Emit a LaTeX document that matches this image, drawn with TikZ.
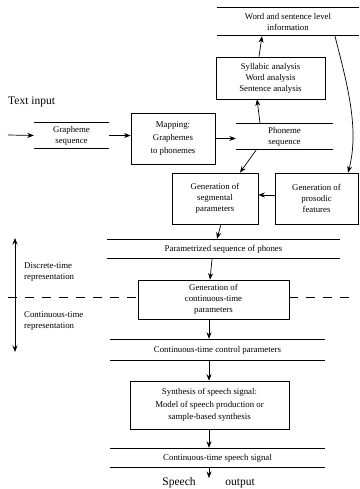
\documentclass[tikz,border=0pt]{standalone}
\usepackage{fontspec}
\setmainfont{Liberation Serif}
\usetikzlibrary{arrows.meta,calc}
\begin{document}
\begin{tikzpicture}[x=1pt,y=-1pt,
  every node/.style={font=\fontsize{8.8}{11}\selectfont, inner sep=0pt, align=center},
  box/.style={draw, line width=0.7pt, minimum width=#1},
  bar/.style={minimum width=#1},
  dbl/.style={double, double distance=1.3pt, line width=0.55pt},
  tip/.style={},
  arr/.style={-{Stealth[length=6.5pt,width=5pt]}, line width=0.7pt},
  lbl/.style={font=\fontsize{8.8}{11}\selectfont, align=left, anchor=west},
  big/.style={font=\fontsize{11.5}{13}\selectfont}
]
\useasboundingbox (0,0) rectangle (359,489);

% nodes
\node[bar=141, minimum height=29] (word) at (288,21.5) {Word and sentence level\\information};
\node[box=109, minimum height=42] (syl) at (270.5,78) {Syllabic analysis\\Word analysis\\Sentence analysis};
\node[big, anchor=west] (txt) at (8,102) {Text input};
\node[bar=75, minimum height=27] (graph) at (71.5,135.5) {Grapheme\\sequence};
\node[box=84, minimum height=51, font=\fontsize{8.8}{13}\selectfont] (map) at (173,138.5) {Mapping:\\Graphemes\\to phonemes};
\node[bar=97, minimum height=27] (phon) at (284.5,136.5) {Phoneme\\sequence};
\node[box=86, minimum height=51] (seg) at (215,198.5) {Generation of\\segmental\\parameters};
\node[box=83, minimum height=51] (pros) at (316.5,198.5) {Generation of\\prosodic\\features};
\node[bar=233, minimum height=20] (param) at (223.5,249) {Parametrized sequence of phones};
\node[box=151, minimum height=39] (gcont) at (213.5,299.5) {Generation of\\continuous-time\\parameters};
\node[bar=215, minimum height=22] (ctrl) at (217.5,350) {Continuous-time control parameters};
\node[box=159, minimum height=48, font=\fontsize{8.8}{12.5}\selectfont] (synth) at (209.5,405) {Synthesis of speech signal:\\Model of speech production or\\sample-based synthesis};
\node[bar=215, minimum height=20] (sig) at (217.5,458) {Continuous-time speech signal};
\node[big] (sp) at (179,483) {Speech};
\node[big] (out) at (240,483) {output};
\node[lbl] (disc) at (24,272) {Discrete-time\\representation};
\node[lbl] (cont) at (24,321) {Continuous-time\\representation};

% double bars
\foreach \n in {word,graph,phon,param,ctrl,sig}{
  \draw[dbl] (\n.north west) -- (\n.north east);
  \draw[dbl] (\n.south west) -- (\n.south east);
}

% coordinates
\coordinate (in) at (8,135);
\coordinate (end) at (209,478);
\coordinate (dl) at (8,297);
\coordinate (dr) at (350,297);
\coordinate (vt) at (15,238);
\coordinate (vb) at (15,352);

% connectors
\draw[arr] (in) -- (graph.west);
\draw[arr] (graph.east) -- (map.west |- graph.east);
\draw[arr] (map.east) -- (phon.west |- map.east);
\draw[arr] ([xshift=-24.5pt]phon.north) -- ([xshift=-13.5pt]syl.south);
\draw[arr] ([xshift=-11.5pt]syl.north) -- ([xshift=-26pt]word.south);
\draw[arr] ([xshift=47pt]word.south) .. controls (346,80) and (360,128) .. ([xshift=31.5pt]pros.north);
\draw[arr] ([xshift=-28.5pt]phon.south) -- ([xshift=25pt]seg.north);
\draw[arr] (pros.west |- 0,195) -- (seg.east |- 0,195);
\draw[arr] ([xshift=6pt]seg.south) -- ([xshift=-6.5pt]param.north);
\draw[arr] ([xshift=-11.5pt]param.south) -- ([xshift=-3.5pt]gcont.north);
\draw[arr] ([xshift=-4.5pt]gcont.south) -- ([xshift=-8.5pt]ctrl.north);
\draw[arr] ([xshift=-8.5pt]ctrl.south) -- ([xshift=-0.5pt]synth.north);
\draw[arr] ([xshift=-0.5pt]synth.south) -- ([xshift=-8.5pt]sig.north);
\draw[arr] ([xshift=-8.5pt]sig.south) -- (end);

% dashed separator
\draw[line width=0.6pt, dash pattern=on 9pt off 8pt] (dl) -- (gcont.west |- dl);
\draw[line width=0.6pt, dash pattern=on 9pt off 8pt] (gcont.east |- dr) -- (dr);
\draw[{Stealth[length=6.5pt,width=5pt]}-{Stealth[length=6.5pt,width=5pt]}, line width=0.7pt] (vt) -- (vb);
\end{tikzpicture}
\end{document}
